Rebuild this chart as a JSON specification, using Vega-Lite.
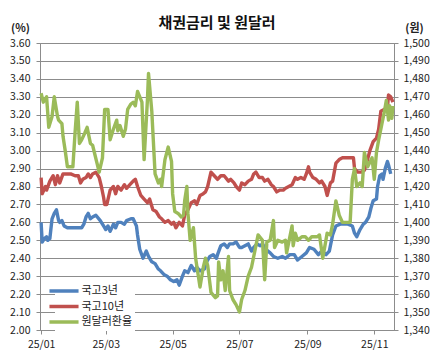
{
  "$schema": "https://vega.github.io/schema/vega-lite/v6.json",
  "width": 354,
  "height": 287,
  "autosize": {"type": "none"},
  "padding": {"left": 40, "top": 43, "right": 40, "bottom": 26},
  "background": "white",
  "title": {"text": "채권금리 및 원달러", "font": "Noto Sans CJK KR", "fontSize": 15, "fontWeight": "bold", "color": "#111", "anchor": "middle", "offset": -9},
  "config": {
    "font": "Noto Sans CJK KR",
    "view": {"stroke": "#8c8c8c", "strokeWidth": 1},
    "axis": {"labelFont": "Noto Sans CJK KR", "labelFontSize": 10.5, "labelColor": "#222", "domainColor": "#8c8c8c", "tickColor": "#8c8c8c", "gridColor": "#8c8c8c", "gridOpacity": 1, "tickSize": 4, "labelOverlap": false}
  },
  "datasets": {
    "b": [
      {"d":"2025-01-01","v":2.60},{"d":"2025-01-02","v":2.49},{"d":"2025-01-04","v":2.51},{"d":"2025-01-06","v":2.52},{"d":"2025-01-07","v":2.50},{"d":"2025-01-09","v":2.51},{"d":"2025-01-11","v":2.62},{"d":"2025-01-13","v":2.65},{"d":"2025-01-15","v":2.67},{"d":"2025-01-17","v":2.61},{"d":"2025-01-18","v":2.60},{"d":"2025-01-20","v":2.61},{"d":"2025-01-22","v":2.58},{"d":"2025-01-25","v":2.57},{"d":"2025-01-29","v":2.57},{"d":"2025-02-03","v":2.57},{"d":"2025-02-07","v":2.57},{"d":"2025-02-09","v":2.59},{"d":"2025-02-11","v":2.63},{"d":"2025-02-13","v":2.65},{"d":"2025-02-15","v":2.62},{"d":"2025-02-17","v":2.63},{"d":"2025-02-20","v":2.64},{"d":"2025-02-24","v":2.61},{"d":"2025-02-27","v":2.58},{"d":"2025-03-01","v":2.56},{"d":"2025-03-03","v":2.58},{"d":"2025-03-05","v":2.55},{"d":"2025-03-08","v":2.59},{"d":"2025-03-10","v":2.57},{"d":"2025-03-12","v":2.60},{"d":"2025-03-15","v":2.60},{"d":"2025-03-18","v":2.59},{"d":"2025-03-20","v":2.61},{"d":"2025-03-24","v":2.62},{"d":"2025-03-26","v":2.62},{"d":"2025-03-29","v":2.58},{"d":"2025-03-30","v":2.53},{"d":"2025-04-01","v":2.45},{"d":"2025-04-04","v":2.40},{"d":"2025-04-07","v":2.44},{"d":"2025-04-09","v":2.41},{"d":"2025-04-12","v":2.38},{"d":"2025-04-15","v":2.37},{"d":"2025-04-18","v":2.34},{"d":"2025-04-20","v":2.33},{"d":"2025-04-23","v":2.31},{"d":"2025-04-26","v":2.30},{"d":"2025-04-29","v":2.28},{"d":"2025-05-02","v":2.27},{"d":"2025-05-05","v":2.28},{"d":"2025-05-07","v":2.25},{"d":"2025-05-10","v":2.30},{"d":"2025-05-12","v":2.33},{"d":"2025-05-15","v":2.32},{"d":"2025-05-18","v":2.36},{"d":"2025-05-21","v":2.33},{"d":"2025-05-23","v":2.35},{"d":"2025-05-26","v":2.33},{"d":"2025-05-30","v":2.34},{"d":"2025-06-01","v":2.38},{"d":"2025-06-04","v":2.41},{"d":"2025-06-07","v":2.42},{"d":"2025-06-10","v":2.40},{"d":"2025-06-11","v":2.42},{"d":"2025-06-14","v":2.47},{"d":"2025-06-17","v":2.48},{"d":"2025-06-20","v":2.46},{"d":"2025-06-22","v":2.48},{"d":"2025-06-25","v":2.48},{"d":"2025-06-28","v":2.49},{"d":"2025-07-01","v":2.46},{"d":"2025-07-03","v":2.46},{"d":"2025-07-06","v":2.47},{"d":"2025-07-09","v":2.48},{"d":"2025-07-12","v":2.44},{"d":"2025-07-14","v":2.46},{"d":"2025-07-17","v":2.48},{"d":"2025-07-20","v":2.47},{"d":"2025-07-22","v":2.48},{"d":"2025-07-25","v":2.45},{"d":"2025-07-29","v":2.43},{"d":"2025-08-01","v":2.41},{"d":"2025-08-05","v":2.40},{"d":"2025-08-09","v":2.41},{"d":"2025-08-12","v":2.40},{"d":"2025-08-16","v":2.42},{"d":"2025-08-20","v":2.42},{"d":"2025-08-23","v":2.39},{"d":"2025-08-27","v":2.41},{"d":"2025-08-31","v":2.43},{"d":"2025-09-03","v":2.46},{"d":"2025-09-07","v":2.45},{"d":"2025-09-11","v":2.42},{"d":"2025-09-14","v":2.44},{"d":"2025-09-18","v":2.42},{"d":"2025-09-21","v":2.44},{"d":"2025-09-22","v":2.47},{"d":"2025-09-24","v":2.53},{"d":"2025-09-27","v":2.58},{"d":"2025-10-01","v":2.59},{"d":"2025-10-04","v":2.59},{"d":"2025-10-08","v":2.59},{"d":"2025-10-12","v":2.58},{"d":"2025-10-14","v":2.54},{"d":"2025-10-16","v":2.52},{"d":"2025-10-19","v":2.56},{"d":"2025-10-22","v":2.59},{"d":"2025-10-24","v":2.60},{"d":"2025-10-27","v":2.63},{"d":"2025-10-29","v":2.68},{"d":"2025-10-31","v":2.72},{"d":"2025-11-03","v":2.73},{"d":"2025-11-04","v":2.80},{"d":"2025-11-06","v":2.86},{"d":"2025-11-08","v":2.87},{"d":"2025-11-09","v":2.84},{"d":"2025-11-11","v":2.90},{"d":"2025-11-13","v":2.94},{"d":"2025-11-14","v":2.92},{"d":"2025-11-16","v":2.87}
    ],
    "r": [
      {"d":"2025-01-01","v":2.85},{"d":"2025-01-02","v":2.76},{"d":"2025-01-05","v":2.80},{"d":"2025-01-06","v":2.78},{"d":"2025-01-09","v":2.83},{"d":"2025-01-12","v":2.86},{"d":"2025-01-14","v":2.81},{"d":"2025-01-16","v":2.86},{"d":"2025-01-18","v":2.82},{"d":"2025-01-21","v":2.87},{"d":"2025-01-25","v":2.87},{"d":"2025-01-28","v":2.87},{"d":"2025-02-01","v":2.86},{"d":"2025-02-04","v":2.86},{"d":"2025-02-06","v":2.82},{"d":"2025-02-08","v":2.84},{"d":"2025-02-11","v":2.85},{"d":"2025-02-13","v":2.87},{"d":"2025-02-15","v":2.85},{"d":"2025-02-17","v":2.87},{"d":"2025-02-20","v":2.88},{"d":"2025-02-23","v":2.85},{"d":"2025-02-25","v":2.80},{"d":"2025-02-27","v":2.74},{"d":"2025-02-28","v":2.70},{"d":"2025-03-02","v":2.70},{"d":"2025-03-05","v":2.78},{"d":"2025-03-08","v":2.80},{"d":"2025-03-10","v":2.76},{"d":"2025-03-12","v":2.80},{"d":"2025-03-15","v":2.78},{"d":"2025-03-18","v":2.81},{"d":"2025-03-20","v":2.79},{"d":"2025-03-23","v":2.81},{"d":"2025-03-26","v":2.83},{"d":"2025-03-28","v":2.84},{"d":"2025-03-30","v":2.80},{"d":"2025-04-02","v":2.75},{"d":"2025-04-05","v":2.73},{"d":"2025-04-08","v":2.71},{"d":"2025-04-10","v":2.73},{"d":"2025-04-13","v":2.67},{"d":"2025-04-16","v":2.66},{"d":"2025-04-19","v":2.63},{"d":"2025-04-21","v":2.62},{"d":"2025-04-24","v":2.60},{"d":"2025-04-27","v":2.61},{"d":"2025-04-30","v":2.59},{"d":"2025-05-02","v":2.60},{"d":"2025-05-04","v":2.57},{"d":"2025-05-07","v":2.60},{"d":"2025-05-10","v":2.58},{"d":"2025-05-12","v":2.64},{"d":"2025-05-15","v":2.67},{"d":"2025-05-18","v":2.71},{"d":"2025-05-21","v":2.72},{"d":"2025-05-23","v":2.70},{"d":"2025-05-26","v":2.75},{"d":"2025-05-29","v":2.76},{"d":"2025-05-31","v":2.77},{"d":"2025-06-02","v":2.80},{"d":"2025-06-05","v":2.88},{"d":"2025-06-08","v":2.86},{"d":"2025-06-11","v":2.84},{"d":"2025-06-14","v":2.86},{"d":"2025-06-17","v":2.86},{"d":"2025-06-21","v":2.83},{"d":"2025-06-23","v":2.84},{"d":"2025-06-26","v":2.82},{"d":"2025-06-28","v":2.80},{"d":"2025-07-01","v":2.78},{"d":"2025-07-03","v":2.82},{"d":"2025-07-06","v":2.81},{"d":"2025-07-09","v":2.83},{"d":"2025-07-12","v":2.84},{"d":"2025-07-14","v":2.87},{"d":"2025-07-16","v":2.88},{"d":"2025-07-19","v":2.85},{"d":"2025-07-22","v":2.85},{"d":"2025-07-24","v":2.83},{"d":"2025-07-27","v":2.84},{"d":"2025-07-30","v":2.81},{"d":"2025-08-01","v":2.80},{"d":"2025-08-04","v":2.77},{"d":"2025-08-07","v":2.78},{"d":"2025-08-10","v":2.78},{"d":"2025-08-12","v":2.79},{"d":"2025-08-15","v":2.80},{"d":"2025-08-18","v":2.81},{"d":"2025-08-21","v":2.85},{"d":"2025-08-23","v":2.84},{"d":"2025-08-26","v":2.85},{"d":"2025-08-29","v":2.84},{"d":"2025-08-31","v":2.87},{"d":"2025-09-02","v":2.91},{"d":"2025-09-03","v":2.88},{"d":"2025-09-06","v":2.85},{"d":"2025-09-09","v":2.84},{"d":"2025-09-12","v":2.82},{"d":"2025-09-14","v":2.83},{"d":"2025-09-17","v":2.80},{"d":"2025-09-19","v":2.75},{"d":"2025-09-22","v":2.82},{"d":"2025-09-24","v":2.83},{"d":"2025-09-27","v":2.93},{"d":"2025-09-30","v":2.95},{"d":"2025-10-03","v":2.96},{"d":"2025-10-06","v":2.96},{"d":"2025-10-10","v":2.96},{"d":"2025-10-13","v":2.96},{"d":"2025-10-14","v":2.90},{"d":"2025-10-17","v":2.88},{"d":"2025-10-20","v":2.88},{"d":"2025-10-23","v":2.89},{"d":"2025-10-25","v":2.93},{"d":"2025-10-28","v":3.00},{"d":"2025-10-31","v":3.05},{"d":"2025-11-03","v":3.07},{"d":"2025-11-05","v":3.12},{"d":"2025-11-07","v":3.22},{"d":"2025-11-10","v":3.23},{"d":"2025-11-13","v":3.24},{"d":"2025-11-14","v":3.31},{"d":"2025-11-16","v":3.30},{"d":"2025-11-18","v":3.27}
    ],
    "g": [
      {"d":"2025-01-01","v":1472},{"d":"2025-01-03","v":1467},{"d":"2025-01-05","v":1469},{"d":"2025-01-06","v":1470},{"d":"2025-01-08","v":1453},{"d":"2025-01-11","v":1459},{"d":"2025-01-13","v":1470},{"d":"2025-01-16","v":1459},{"d":"2025-01-17","v":1457},{"d":"2025-01-20","v":1455},{"d":"2025-01-21","v":1448},{"d":"2025-01-23","v":1440},{"d":"2025-01-25","v":1431},{"d":"2025-01-27","v":1431},{"d":"2025-01-30","v":1431},{"d":"2025-02-01","v":1450},{"d":"2025-02-03","v":1467},{"d":"2025-02-05","v":1444},{"d":"2025-02-07","v":1446},{"d":"2025-02-10","v":1450},{"d":"2025-02-12","v":1453},{"d":"2025-02-15","v":1444},{"d":"2025-02-17","v":1443},{"d":"2025-02-21","v":1433},{"d":"2025-02-23","v":1428},{"d":"2025-02-26","v":1436},{"d":"2025-02-28","v":1463},{"d":"2025-03-03","v":1463},{"d":"2025-03-05","v":1446},{"d":"2025-03-08","v":1452},{"d":"2025-03-11","v":1457},{"d":"2025-03-12","v":1451},{"d":"2025-03-14","v":1454},{"d":"2025-03-17","v":1448},{"d":"2025-03-19","v":1452},{"d":"2025-03-21","v":1463},{"d":"2025-03-24","v":1466},{"d":"2025-03-26","v":1467},{"d":"2025-03-28","v":1465},{"d":"2025-03-30","v":1473},{"d":"2025-04-03","v":1467},{"d":"2025-04-05","v":1435},{"d":"2025-04-08","v":1468},{"d":"2025-04-09","v":1483},{"d":"2025-04-12","v":1462},{"d":"2025-04-15","v":1427},{"d":"2025-04-18","v":1422},{"d":"2025-04-20","v":1424},{"d":"2025-04-21","v":1420},{"d":"2025-04-24","v":1435},{"d":"2025-04-27","v":1442},{"d":"2025-04-30","v":1434},{"d":"2025-05-01","v":1416},{"d":"2025-05-03","v":1406},{"d":"2025-05-06","v":1405},{"d":"2025-05-09","v":1403},{"d":"2025-05-11","v":1404},{"d":"2025-05-12","v":1412},{"d":"2025-05-14","v":1420},{"d":"2025-05-15","v":1405},{"d":"2025-05-17","v":1390},{"d":"2025-05-20","v":1397},{"d":"2025-05-22","v":1380},{"d":"2025-05-26","v":1364},{"d":"2025-05-29","v":1375},{"d":"2025-05-31","v":1380},{"d":"2025-06-02","v":1376},{"d":"2025-06-05","v":1361},{"d":"2025-06-09","v":1358},{"d":"2025-06-11","v":1359},{"d":"2025-06-12","v":1378},{"d":"2025-06-14","v":1368},{"d":"2025-06-16","v":1373},{"d":"2025-06-18","v":1362},{"d":"2025-06-21","v":1381},{"d":"2025-06-22","v":1362},{"d":"2025-06-25","v":1357},{"d":"2025-06-28","v":1354},{"d":"2025-07-01","v":1350},{"d":"2025-07-03","v":1357},{"d":"2025-07-06","v":1362},{"d":"2025-07-09","v":1370},{"d":"2025-07-12","v":1375},{"d":"2025-07-15","v":1384},{"d":"2025-07-18","v":1393},{"d":"2025-07-22","v":1390},{"d":"2025-07-24","v":1368},{"d":"2025-07-26","v":1389},{"d":"2025-07-29","v":1390},{"d":"2025-08-01","v":1401},{"d":"2025-08-02","v":1386},{"d":"2025-08-05","v":1390},{"d":"2025-08-09","v":1389},{"d":"2025-08-12","v":1390},{"d":"2025-08-13","v":1383},{"d":"2025-08-18","v":1398},{"d":"2025-08-19","v":1387},{"d":"2025-08-21","v":1394},{"d":"2025-08-23","v":1390},{"d":"2025-08-27","v":1392},{"d":"2025-08-30","v":1392},{"d":"2025-09-02","v":1390},{"d":"2025-09-05","v":1392},{"d":"2025-09-10","v":1392},{"d":"2025-09-12","v":1393},{"d":"2025-09-15","v":1380},{"d":"2025-09-19","v":1394},{"d":"2025-09-22","v":1393},{"d":"2025-09-24","v":1399},{"d":"2025-09-27","v":1412},{"d":"2025-09-30","v":1404},{"d":"2025-10-03","v":1400},{"d":"2025-10-05","v":1400},{"d":"2025-10-08","v":1400},{"d":"2025-10-10","v":1400},{"d":"2025-10-12","v":1424},{"d":"2025-10-14","v":1430},{"d":"2025-10-16","v":1420},{"d":"2025-10-19","v":1422},{"d":"2025-10-21","v":1420},{"d":"2025-10-23","v":1439},{"d":"2025-10-26","v":1431},{"d":"2025-10-30","v":1436},{"d":"2025-11-01","v":1424},{"d":"2025-11-03","v":1439},{"d":"2025-11-05","v":1446},{"d":"2025-11-08","v":1455},{"d":"2025-11-10","v":1461},{"d":"2025-11-12","v":1468},{"d":"2025-11-14","v":1457},{"d":"2025-11-15","v":1465},{"d":"2025-11-17","v":1458},{"d":"2025-11-18","v":1465}
    ]
  },
  "layer": [
    {
      "layer": [
        {
          "data": {"name": "b"},
          "mark": {"type": "line", "strokeWidth": 3.4, "strokeJoin": "round"},
          "encoding": {
            "x": {"field": "d", "type": "temporal",
              "scale": {"type": "utc", "domain": [{"year": 2024, "month": 12, "date": 31, "utc": true}, {"year": 2025, "month": 11, "date": 19, "utc": true}]},
              "axis": {"title": null, "format": "%y/%m", "labelPadding": 5, "grid": false,
                "values": [{"year": 2025, "month": 1, "date": 1, "utc": true}, {"year": 2025, "month": 3, "date": 1, "utc": true}, {"year": 2025, "month": 5, "date": 1, "utc": true}, {"year": 2025, "month": 7, "date": 1, "utc": true}, {"year": 2025, "month": 9, "date": 1, "utc": true}, {"year": 2025, "month": 11, "date": 1, "utc": true}]}},
            "y": {"field": "v", "type": "quantitative",
              "scale": {"domain": [2.0, 3.6], "zero": false, "nice": false},
              "axis": {"values": [2.0, 2.1, 2.2, 2.3, 2.4, 2.5, 2.6, 2.7, 2.8, 2.9, 3.0, 3.1, 3.2, 3.3, 3.4, 3.5, 3.6], "tickCount": 17, "format": ".2f", "grid": true, "labelPadding": 6, "labelOverlap": false,
                "title": "(%)", "titleAngle": 0, "titleAlign": "center", "titleBaseline": "middle", "titleX": -20, "titleY": -15, "titleFontSize": 11, "titleFontWeight": "bold", "titleColor": "#222"}},
            "color": {"datum": "국고3년", "type": "nominal",
              "scale": {"domain": ["국고3년", "국고10년", "원달러환율"], "range": ["#4F81BD", "#C0504D", "#9BBB59"]},
              "legend": {"title": null, "orient": "none", "legendX": 15, "legendY": 239, "direction": "vertical",
                "symbolType": "M-3,0H3", "symbolSize": 94, "symbolStrokeWidth": 3.5, "symbolFillColor": "transparent",
                "labelFontSize": 11, "labelFont": "Noto Sans CJK KR", "labelColor": "#222", "labelOffset": 10.5, "rowPadding": 1.5,
                "fillColor": "white", "padding": 2}}
          }
        },
        {
          "data": {"name": "r"},
          "mark": {"type": "line", "strokeWidth": 3.4, "strokeJoin": "round"},
          "encoding": {
            "x": {"field": "d", "type": "temporal"},
            "y": {"field": "v", "type": "quantitative", "axis": {"values": [2.0, 2.1, 2.2, 2.3, 2.4, 2.5, 2.6, 2.7, 2.8, 2.9, 3.0, 3.1, 3.2, 3.3, 3.4, 3.5, 3.6], "tickCount": 17}},
            "color": {"datum": "국고10년", "type": "nominal"}
          }
        }
      ]
    },
    {
      "data": {"name": "g"},
      "mark": {"type": "line", "strokeWidth": 3.4, "strokeJoin": "round"},
      "encoding": {
        "x": {"field": "d", "type": "temporal"},
        "y": {"field": "v", "type": "quantitative",
          "scale": {"domain": [1340, 1500], "zero": false, "nice": false},
          "axis": {"orient": "right", "values": [1340, 1350, 1360, 1370, 1380, 1390, 1400, 1410, 1420, 1430, 1440, 1450, 1460, 1470, 1480, 1490, 1500], "tickCount": 17, "format": ",.0f", "grid": false, "labelPadding": 5, "labelOverlap": false,
            "title": "(원)", "titleAngle": 0, "titleAlign": "center", "titleBaseline": "middle", "titleX": 20, "titleY": -15, "titleFontSize": 11, "titleFontWeight": "bold", "titleColor": "#222"}},
        "color": {"datum": "원달러환율", "type": "nominal"}
      }
    }
  ],
  "resolve": {"scale": {"y": "independent"}}
}
